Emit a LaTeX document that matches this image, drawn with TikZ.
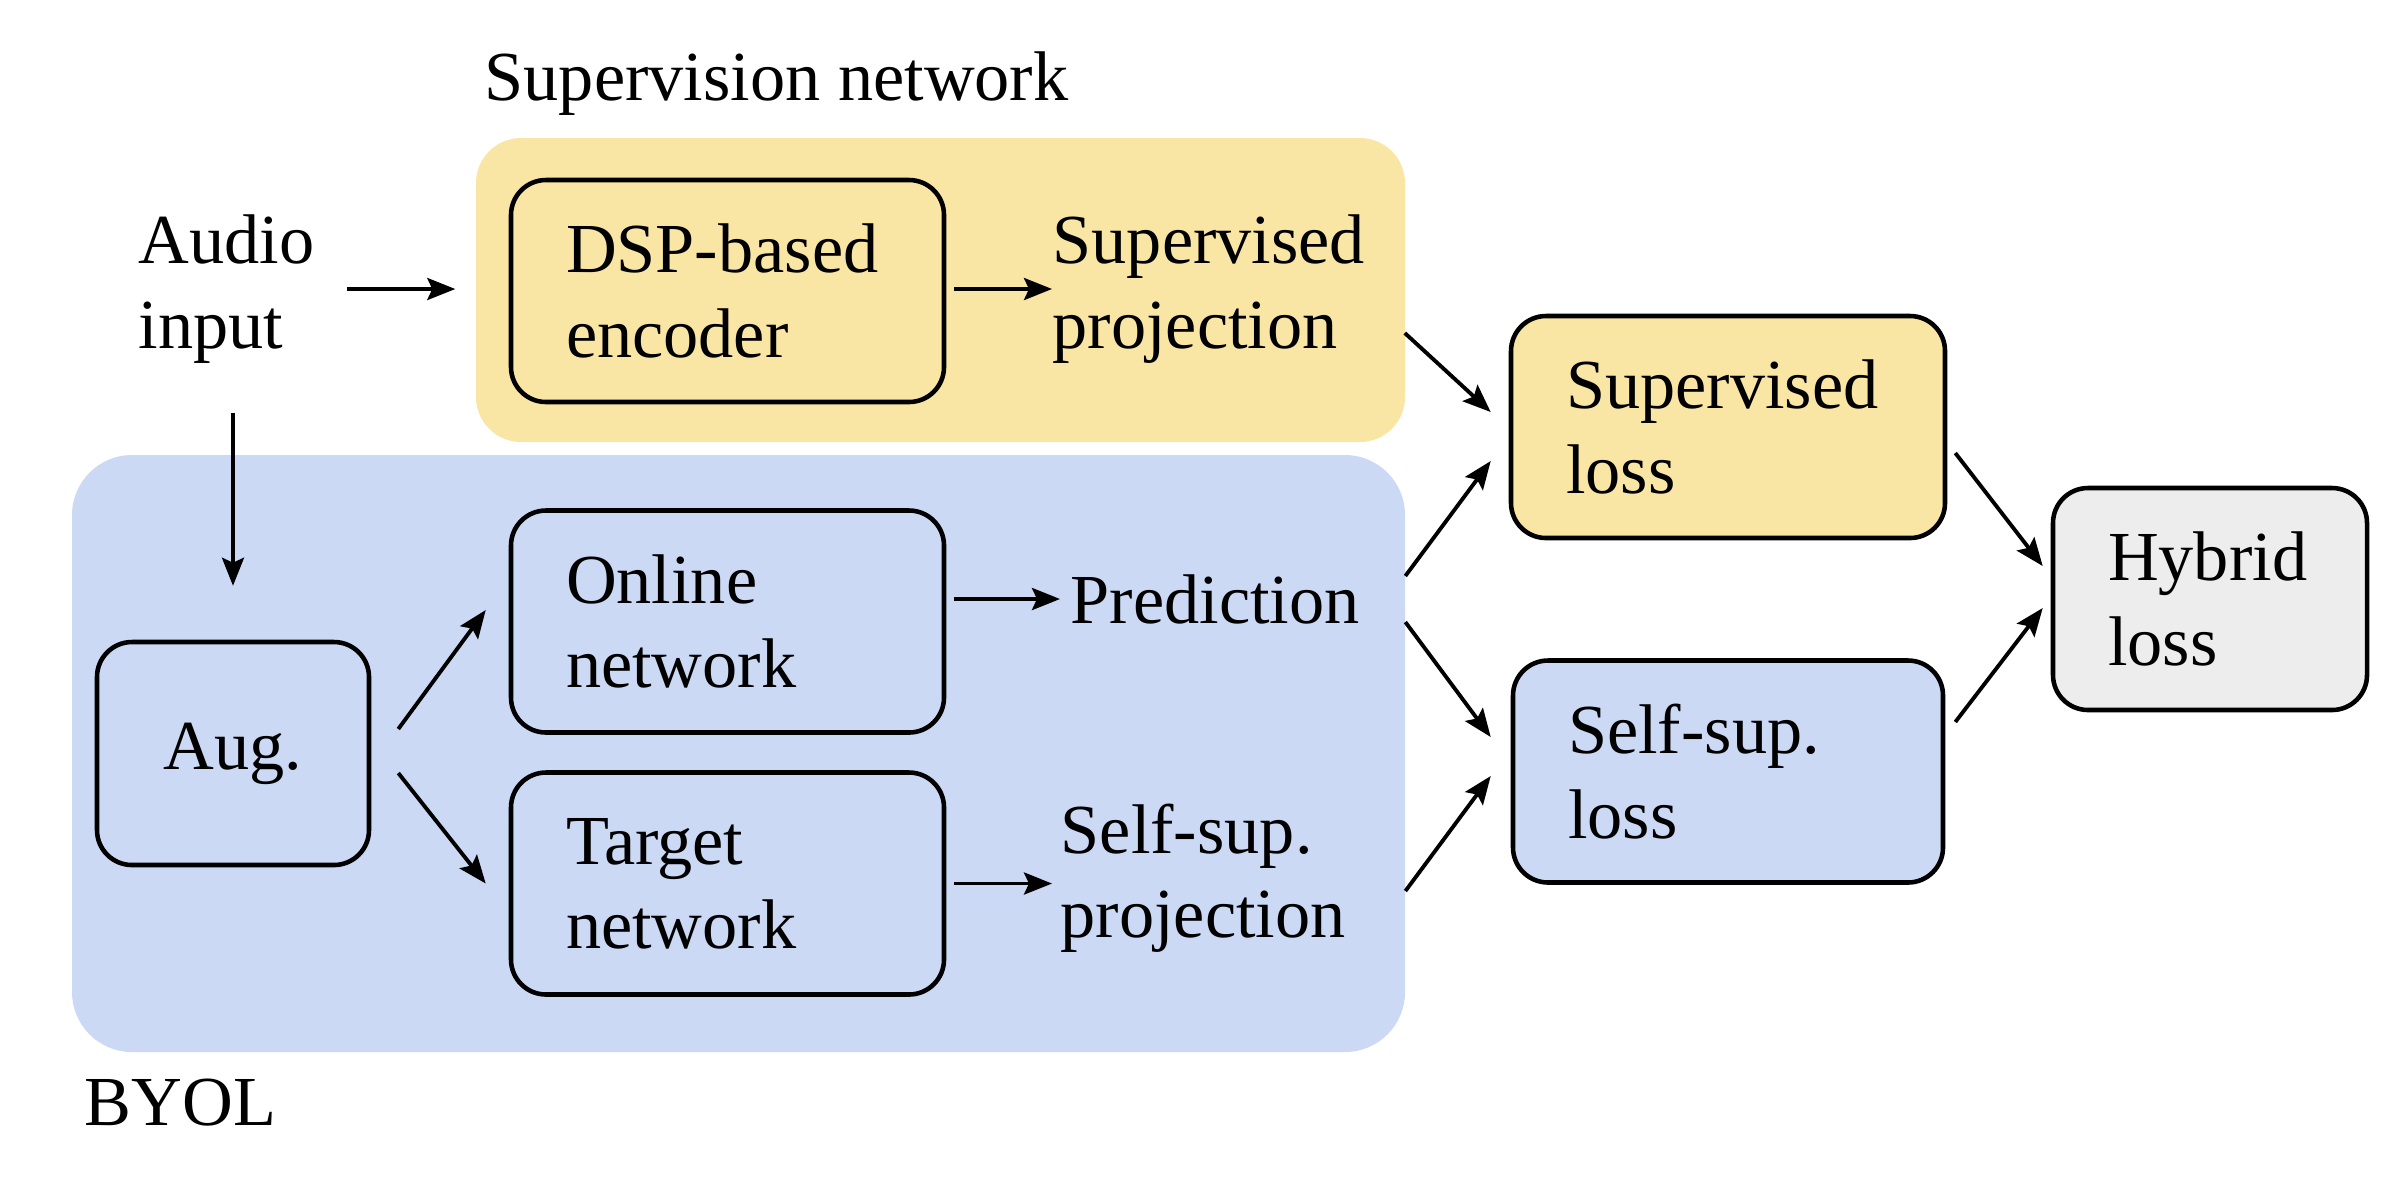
\documentclass[tikz,border=0pt]{standalone}
\usepackage{fontspec}
\setmainfont{Liberation Serif}
\usetikzlibrary{positioning,arrows.meta}

\definecolor{supyellow}{HTML}{FAE6A4}
\definecolor{byolblue}{HTML}{CBD9F4}
\definecolor{hybgrey}{HTML}{EDEDED}

\begin{document}
\begin{tikzpicture}[
      >={Stealth[length=2.8mm,width=2.2mm,inset=0.5mm]},
      txt/.style={font=\fontsize{20}{24}\selectfont,inner sep=0pt,
        align=left,anchor=west},
      region/.style={inner sep=0pt,rounded corners=#1},
      block/.style={draw=black,line width=1.3pt,rounded corners=0.35cm,
        font=\fontsize{20}{24}\selectfont,align=left,inner xsep=0.55cm,
        minimum height=2.22cm},
      arr/.style={draw=black,line width=1.1pt,->}
    ]
    \useasboundingbox (0,0) rectangle (24.08,-11.88);
    % shaded groups
    \node[region=0.45cm,fill=supyellow,minimum width=9.29cm,
      minimum height=3.04cm] (supnet) at (9.405,-2.90) {};
    \node[region=0.6cm,fill=byolblue,minimum width=13.33cm,
      minimum height=5.97cm] (byolnet) at (7.385,-7.535) {};
    \node[txt] (suplabel) at (4.84,-0.84) {Supervision network};
    \node[txt] (byollabel) at (0.84,-11.03) {BYOL};
    % inputs and networks
    \node[txt] (audio) at (1.38,-2.89) {Audio\\input};
    \node[block,fill=supyellow,text width=3.23cm] (dsp) at (7.275,-2.91)
      {DSP-based\\encoder};
    \node[block,fill=byolblue,text width=1.62cm,align=center,
      minimum height=2.23cm] (aug) at (2.33,-7.535) {Aug.};
    \node[block,fill=byolblue,text width=3.23cm] (online) at (7.275,-6.215)
      {Online\\network};
    \node[block,fill=byolblue,text width=3.23cm] (target) at (7.275,-8.835)
      {Target\\network};
    \node[txt] (supproj) at (10.52,-2.89) {Supervised\\projection};
    \node[txt] (pred) at (10.70,-5.99) {Prediction};
    \node[txt] (sspproj) at (10.60,-8.78) {Self-sup.\\projection};
    % losses
    \node[block,fill=supyellow,text width=3.24cm] (suploss) at (17.28,-4.27)
      {Supervised\\loss};
    \node[block,fill=byolblue,text width=3.20cm] (selfloss) at (17.28,-7.715)
      {Self-sup.\\loss};
    \node[block,fill=hybgrey,text width=2.04cm] (hybrid) at (22.10,-5.99)
      {Hybrid\\loss};
    % connectors
    \draw[arr,shorten <=0.32cm,shorten >=0.2cm] (audio.east) -- (audio -| supnet.west);
    \draw[arr,shorten <=0.49cm,shorten >=0.54cm] (aug.north |- audio.south) -- (aug.north);
    \draw[arr] ([xshift=0.27cm,yshift=0.245cm]aug.east)
      -- ([xshift=-0.23cm,yshift=0.115cm]online.west);
    \draw[arr] ([xshift=0.27cm,yshift=-0.195cm]aug.east)
      -- ([xshift=-0.23cm]target.west);
    \draw[arr,shorten <=0.08cm] (dsp.east |- supproj) -- (supproj.west);
    \draw[arr,shorten <=0.08cm,shorten >=0.1cm] (online.east |- pred) -- (pred.west);
    \draw[arr,shorten <=0.08cm,shorten >=0.08cm] (target.east) -- (target.east -| sspproj.west);
    \draw[arr] ([xshift=0.39cm,yshift=-0.44cm]supproj.east)
      -- ([xshift=-0.18cm,yshift=0.15cm]suploss.west);
    \draw[arr] ([xshift=0.45cm,yshift=0.23cm]pred.east)
      -- ([xshift=-0.18cm,yshift=-0.34cm]suploss.west);
    \draw[arr] ([xshift=0.45cm,yshift=-0.23cm]pred.east)
      -- ([xshift=-0.2cm,yshift=0.345cm]selfloss.west);
    \draw[arr] ([xshift=0.59cm,yshift=-0.13cm]sspproj.east)
      -- ([xshift=-0.2cm,yshift=-0.045cm]selfloss.west);
    \draw[arr] ([xshift=0.08cm,yshift=-0.26cm]suploss.east)
      -- ([xshift=-0.08cm,yshift=0.33cm]hybrid.west);
    \draw[arr] ([xshift=0.1cm,yshift=0.495cm]selfloss.east)
      -- ([xshift=-0.08cm,yshift=-0.09cm]hybrid.west);
\end{tikzpicture}
\end{document}
